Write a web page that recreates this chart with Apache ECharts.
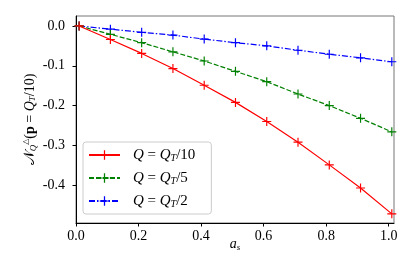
<!DOCTYPE html>
<html><head><meta charset="utf-8">
<script src="https://cdn.jsdelivr.net/npm/echarts@6/dist/echarts.min.js"></script>
<style>html,body{margin:0;padding:0;background:#fff}#c{width:415px;height:277px}</style>
</head><body><div id="c"></div>
<script>
var xValues = [0.01, 0.11, 0.21, 0.31, 0.41, 0.51, 0.61, 0.71, 0.81, 0.91, 1.01];
var seriesNames = ['Q=QT/10', 'Q=QT/5', 'Q=QT/2'];
var legendDenoms = ['10', '5', '2'];
var redValues = [0, -0.034, -0.069, -0.107, -0.149, -0.192, -0.240, -0.292, -0.349, -0.407, -0.472];
var greenValues = [0, -0.021, -0.042, -0.065, -0.088, -0.114, -0.140, -0.171, -0.200, -0.232, -0.266];
var blueValues = [0, -0.008, -0.016, -0.023, -0.033, -0.042, -0.050, -0.061, -0.071, -0.080, -0.090];
var xTicks = [0, 0.2, 0.4, 0.6, 0.8, 1.0];
var yTicks = [-0.4, -0.3, -0.2, -0.1, 0];
var colors = ['#ff0000', '#008000', '#0000ff'];

var serif = 'Liberation Serif';
var plus = 'path://M-1,-0.13 L-0.13,-0.13 L-0.13,-1 L0.13,-1 L0.13,-0.13 L1,-0.13 L1,0.13 L0.13,0.13 L0.13,1 L-0.13,1 L-0.13,0.13 L-1,0.13Z';
function pairs(vals){ return xValues.map(function(x,i){ return [x, vals[i]]; }); }
var lineTypes = ['solid', [5, 2], [6, 2, 1.5, 2]];
var allVals = [redValues, greenValues, blueValues];
var series = allVals.map(function(v, i){
  return {
    name: seriesNames[i], type: 'line', data: pairs(v),
    symbol: plus, symbolSize: 9, showSymbol: true,
    itemStyle: {color: colors[i]},
    lineStyle: {color: colors[i], width: 1.2, type: lineTypes[i]},
    z: 3 - i
  };
});
var chart = echarts.init(document.getElementById('c'), null, {renderer: 'canvas'});
chart.setOption({
  animation: false,
  grid: {left: 76, right: 21, top: 16, bottom: 54, show: true, borderColor: '#777', borderWidth: 1, backgroundColor: 'transparent'},
  legend: {
    left: 83, top: 142, orient: 'vertical',
    backgroundColor: '#fff', borderColor: '#ccc', borderWidth: 1, borderRadius: 3,
    padding: [5, 16, 5, 5], itemWidth: 31, itemHeight: 12, itemGap: 7,
    data: seriesNames,
    formatter: function(name){
      var i = seriesNames.indexOf(name);
      return '{i|Q}{t| = }{i|Q}{s|T}{t|/' + legendDenoms[i] + '}';
    },
    textStyle: {
      padding: [0, 0, 0, 8], fontFamily: serif, fontSize: 14, color: '#000', lineHeight: 16,
      rich: {
        i: {fontFamily: serif, fontStyle: 'italic', fontSize: 15, lineHeight: 16},
        t: {fontFamily: serif, fontSize: 15, lineHeight: 16},
        s: {fontFamily: serif, fontStyle: 'italic', fontSize: 10, verticalAlign: 'bottom', lineHeight: 12, padding: [5, 0, 0, 0]}
      }
    }
  },
  xAxis: {
    type: 'value', min: 0, max: 1.017,
    name: '{a|a}{s|s}', nameLocation: 'middle', nameGap: 14, nameMoveOverlap: false,
    nameTextStyle: {verticalAlign: 'top', rich: {
      a: {fontFamily: serif, fontStyle: 'italic', fontSize: 14},
      s: {fontFamily: serif, fontStyle: 'italic', fontSize: 9, padding: [6, 0, 0, 0]}
    }},
    axisLine: {show: true, onZero: false, lineStyle: {color: '#000', width: 1}},
    axisTick: {show: true, length: 3.5, customValues: xTicks, lineStyle: {color: '#000'}},
    axisLabel: {customValues: xTicks, fontFamily: serif, fontSize: 14, color: '#000', margin: 6,
      formatter: function(v){ return v.toFixed(1); }},
    splitLine: {show: false}
  },
  yAxis: {
    type: 'value', min: -0.495, max: 0.025,
    name: '{n|𝒩}{sub|Q}{sup|△}{t|(}{b|p}{t| = }{i|Q}{s2|T}{t|/10)}', nameLocation: 'middle', nameGap: 36, nameMoveOverlap: false,
    nameTextStyle: {rich: {
      n: {fontFamily: serif, fontSize: 15, lineHeight: 20},
      sub: {fontFamily: serif, fontStyle: 'italic', fontSize: 9, padding: [7, 0, 0, 0]},
      sup: {fontFamily: 'DejaVu Sans', fontSize: 8, padding: [0, 0, 8, 0]},
      t: {fontFamily: serif, fontSize: 14},
      b: {fontFamily: serif, fontSize: 14, fontWeight: 'bold'},
      i: {fontFamily: serif, fontStyle: 'italic', fontSize: 14},
      s2: {fontFamily: serif, fontStyle: 'italic', fontSize: 9, padding: [6, 0, 0, 0]}
    }},
    axisLine: {show: true, onZero: false, lineStyle: {color: '#000', width: 1}},
    axisTick: {show: true, length: 3.5, customValues: yTicks, lineStyle: {color: '#000'}},
    axisLabel: {customValues: yTicks, fontFamily: serif, fontSize: 14, color: '#000', margin: 11,
      formatter: function(v){ return v.toFixed(1); }},
    splitLine: {show: false}
  },
  series: series
});
</script></body></html>
